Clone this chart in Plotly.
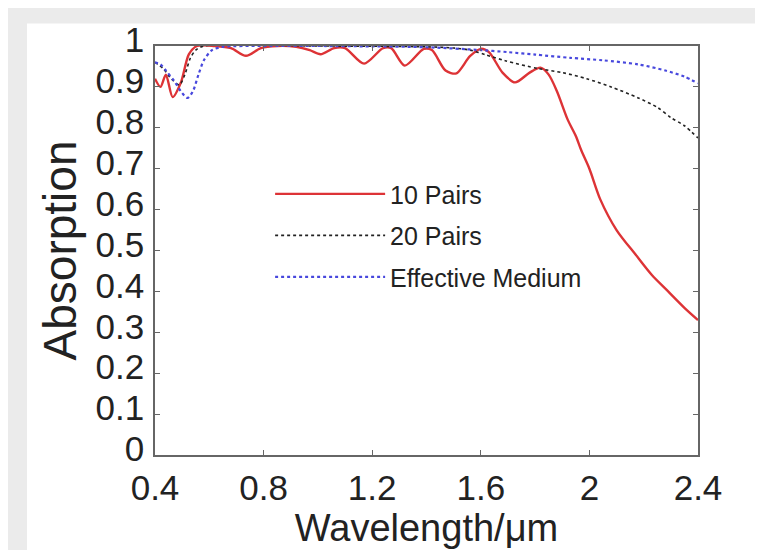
import plotly.graph_objects as go

# ---- data ----
wl_10 = [0.40, 0.42, 0.44, 0.465, 0.495, 0.525, 0.555, 0.62, 0.68, 0.735, 0.79, 0.85, 0.92,
         0.97, 1.01, 1.06, 1.10, 1.17, 1.24, 1.27, 1.32, 1.39, 1.42, 1.47, 1.51, 1.56,
         1.60, 1.63, 1.68, 1.726, 1.78, 1.82, 1.85, 1.88, 1.92, 1.95, 1.97, 2.00, 2.04,
         2.10, 2.17, 2.23, 2.29, 2.35, 2.40]
abs_10 = [0.92, 0.90, 0.93, 0.875, 0.91, 0.98, 1.0, 1.0, 0.995, 0.976, 0.995, 1.0, 0.998,
          0.99, 0.98, 0.995, 0.995, 0.957, 0.995, 0.995, 0.952, 0.993, 0.99, 0.94, 0.933, 0.975,
          0.993, 0.985, 0.935, 0.911, 0.935, 0.947, 0.93, 0.89, 0.82, 0.78, 0.745, 0.70, 0.625,
          0.55, 0.49, 0.44, 0.40, 0.36, 0.33]

wl_20 = [0.40, 0.43, 0.46, 0.49, 0.51, 0.53, 0.55, 0.58, 1.0, 1.4, 1.5, 1.56, 1.62, 1.69,
         1.81, 1.90, 1.99, 2.08, 2.18, 2.25, 2.30, 2.35, 2.40]
abs_20 = [0.96, 0.945, 0.92, 0.905, 0.93, 0.97, 0.99, 1.0, 1.0, 0.998, 0.995, 0.99, 0.978, 0.964,
          0.945, 0.935, 0.92, 0.90, 0.873, 0.85, 0.825, 0.805, 0.775]

wl_em = [0.40, 0.42, 0.44, 0.47, 0.50, 0.52, 0.54, 0.56, 0.58, 0.61, 0.65, 0.80, 1.0, 1.2,
         1.4, 1.6, 1.7, 1.8, 1.93, 2.05, 2.18, 2.28, 2.35, 2.40]
abs_em = [0.96, 0.955, 0.94, 0.915, 0.885, 0.873, 0.89, 0.93, 0.965, 0.99, 0.998, 1.0, 1.0, 0.999,
          0.997, 0.99, 0.985, 0.979, 0.971, 0.965, 0.955, 0.94, 0.925, 0.909]

x_ticks = [0.4, 0.8, 1.2, 1.6, 2.0, 2.4]
x_labels = ["0.4", "0.8", "1.2", "1.6", "2", "2.4"]
y_ticks = [0, 0.1, 0.2, 0.3, 0.4, 0.5, 0.6, 0.7, 0.8, 0.9, 1.0]
y_labels = ["0", "0.1", "0.2", "0.3", "0.4", "0.5", "0.6", "0.7", "0.8", "0.9", "1"]

FONT = "Liberation Sans, Arial, sans-serif"
W, H = 763, 550
ML, MR, MT, MB = 147, 73, 30, 103

fig = go.Figure()
fig.add_trace(go.Scatter(x=wl_10, y=abs_10, mode="lines", name="10 Pairs", legendgroup="a",
                         line=dict(color="#dd3336", width=2.4, shape="spline", smoothing=0.8)))
fig.add_trace(go.Scatter(x=wl_20, y=abs_20, mode="lines", name="20 Pairs", legendgroup="b",
                         line=dict(color="#222222", width=1.6, dash="dot", shape="spline", smoothing=0.8)))
fig.add_trace(go.Scatter(x=wl_em, y=abs_em, mode="lines", name="Effective Medium", legendgroup="c",
                         line=dict(color="#4848dd", width=2.2, dash="dot", shape="spline", smoothing=0.8)))

# white card on a light grey page (decoration only)
pw = W - ML - MR
ph = H - MT - MB
fig.add_shape(type="rect", xref="paper", yref="paper", layer="below",
              x0=(19 - ML) / pw, x1=(W - 1 - ML) / pw, y0=-MB / ph, y1=1 + (MT - 7) / ph,
              fillcolor="white", line=dict(width=0))

axis_common = dict(showgrid=False, zeroline=False, showline=True, linecolor="#666666", linewidth=1.5,
                   mirror="ticks", ticks="inside", ticklen=5, tickcolor="#666666",
                   tickfont=dict(family=FONT, size=35, color="#222222"))
fig.update_xaxes(range=[0.4, 2.4], tickvals=x_ticks, ticktext=x_labels, ticklabelstandoff=1,
                 title=dict(text="Wavelength/μm", font=dict(family=FONT, size=38, color="#222222"), standoff=6),
                 **axis_common)
fig.update_yaxes(range=[0, 1], tickvals=y_ticks, ticktext=y_labels, ticklabelstandoff=2, ticklabelshift=-6,
                 title=dict(text="Absorption", font=dict(family=FONT, size=46, color="#222222"), standoff=4),
                 **axis_common)

fig.update_layout(
    width=W, height=H, margin=dict(l=ML, r=MR, t=MT, b=MB),
    paper_bgcolor="#ebebeb", plot_bgcolor="white",
    legend=dict(x=0.212, y=0.694, xanchor="left", yanchor="top", bgcolor="rgba(0,0,0,0)",
                font=dict(family=FONT, size=25, color="#222222"), itemwidth=110, tracegroupgap=6),
)
fig.write_html("out.html")
